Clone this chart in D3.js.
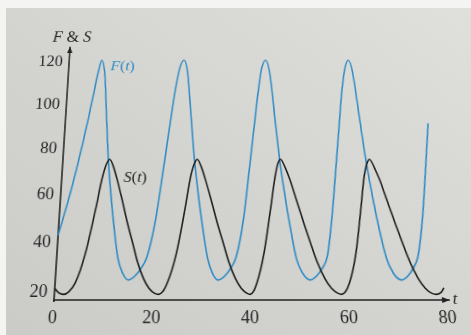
<!DOCTYPE html>
<html>
<head>
<meta charset="utf-8" />
<title>F(t) and S(t)</title>
<style>
  html, body { margin: 0; padding: 0; }
  body { width: 471px; height: 335px; overflow: hidden; position: relative; background: #f4f4f2; }
  #paper {
    position: absolute; left: 6px; top: 8px; right: 0; bottom: 0;
    background: linear-gradient(to bottom left, #dfdfdc, #d3d3d0 55%, #cbcbc8);
  }
  #chart { position: absolute; left: 0; top: 0; overflow: visible; transform-origin: 0 0; }
  .lbl { font-family: "Liberation Serif", "Times New Roman", serif; fill: #262626; }
  .curve { fill: none; stroke-width: 1.6px; stroke-linejoin: round; }
</style>
</head>
<body>
<div id="paper"></div>
<svg id="chart" width="471" height="335"></svg>
<script src="https://d3js.org/d3.v7.min.js"></script>
<script>

// ---------------- data ----------------
// F(t), blue
var tF = [0, 1, 2, 3, 4, 5, 6, 6.7, 7.3,
  8.1, 9.0, 9.8, 10.6, 11.7, 12.7, 13.8, 15.0,
  16.3, 17.4, 18.7, 20.4, 21.7, 22.9, 24.0, 25.0, 25.9,
  26.7, 27.6, 28.4, 29.2, 30.3, 31.3, 32.3, 33.5,
  34.8, 35.9, 37.2, 38.9, 40.2, 41.4, 42.5, 43.4, 44.3,
  45.1, 46.0, 46.8, 47.6, 48.7, 49.7, 50.9, 52.4,
  53.7, 54.8, 56.1, 57.5, 58.8, 60.0, 61.1, 62.1, 62.9,
  63.7, 64.6, 65.4, 66.2, 67.3, 68.4, 69.6, 71.2,
  72.5, 73.6, 74.9, 76.6, 78.1, 79.6];
var F = [42.5, 51, 60, 70, 81, 93, 106, 115, 120.5,
  115, 94, 75, 61, 45, 33, 27, 24.3,
  25.8, 28.5, 33.5, 50, 70, 89, 106, 117, 120.5,
  115, 94, 75, 61, 45, 33, 27, 24.3,
  25.8, 28.5, 33.5, 50, 70, 89, 106, 117, 120.5,
  115, 94, 75, 61, 45, 33, 27, 24.3,
  25.8, 28.5, 33.5, 50, 70, 89, 106, 117, 120.5,
  115, 94, 75, 61, 45, 33, 27, 24.3,
  25.8, 28.5, 33.5, 50, 70, 91];

// S(t), black
var tS = [0, 0.9, 1.9, 2.9, 4.1, 5.9, 7.6, 8.8, 9.5, 10.1,
  11.1, 11.9, 13.1, 14.5, 15.7, 16.8, 18.1, 19.3, 20.5, 21.3,
  22.1, 23.0, 24.8, 26.5, 27.7, 28.4, 29.0,
  30.0, 30.8, 32.0, 33.4, 34.6, 35.7, 37.0, 38.2, 39.4, 40.0,
  40.7, 41.4, 43.0, 44.6, 45.8, 46.4, 47.0,
  48.0, 48.9, 50.1, 51.6, 52.8, 54.0, 55.4, 56.7, 58.0, 58.7,
  59.5, 60.4, 62.1, 63.7, 64.9, 65.6, 66.2,
  67.2, 68.1, 69.3, 70.8, 72.0, 73.2, 74.6, 75.9, 77.2, 78.0, 79.0, 79.7];
var S = [21, 19.2, 18.6, 19.6, 23, 35, 53.5, 68, 73, 74.9,
  71, 66, 57.5, 47, 39, 31.5, 25, 21, 19, 18.6,
  19.6, 23, 35, 53.5, 68, 73, 74.9,
  71, 66, 57.5, 47, 39, 31.5, 25, 21, 19, 18.6,
  19.8, 23, 35, 53.5, 68, 73, 74.9,
  71, 66, 57.5, 47, 39, 31.5, 25, 21, 19, 18.6,
  19.6, 23, 35, 53.5, 68, 73, 74.9,
  71, 66, 57.5, 47, 39, 31.5, 25, 21, 19, 18.6, 19.3, 21.2];

var xTicks = [0, 20, 40, 60, 80];
var yTicks = [20, 40, 60, 80, 100, 120];

// ---------------- layout ----------------
var svg = d3.select("#chart");
var x = d3.scaleLinear().domain([0, 80]).range([54, 446.4]);
var y = d3.scaleLinear().domain([16.4, 120]).range([300, 36]);
var xEnd = 80.7, yEnd = 127;   // where the axis arrows stop

// the reference is a photo of a page seen slightly from below:
// warp the flat chart the same way (top edge narrower and shorter)
var vanishX = 213, tilt = 0.0004, baseY = 300;
var k = 1 + tilt * baseY;
var m = [1 / k, 0, 0, 0,
  -vanishX * tilt / k, (1 - tilt * baseY) / k, 0, -tilt / k,
  0, 0, 1, 0,
  vanishX * tilt * baseY / k, tilt * baseY * baseY / k, 0, 1];
svg.style("transform", "matrix3d(" + m.join(",") + ")");

var ink = "#222";
var defs = svg.append("defs");
defs.append("marker")
  .attr("id", "arrow")
  .attr("markerUnits", "userSpaceOnUse")
  .attr("markerWidth", 10).attr("markerHeight", 10)
  .attr("refX", 8).attr("refY", 4)
  .attr("orient", "auto")
  .append("path")
  .attr("d", "M0,1 L8,4 L0,7 Z")
  .attr("fill", ink);

// axis lines with arrows
svg.append("line")
  .attr("x1", x(0)).attr("y1", y(16.4) + 2)
  .attr("x2", x(0)).attr("y2", y(yEnd))
  .attr("stroke", ink).attr("stroke-width", 1.6)
  .attr("marker-end", "url(#arrow)");
svg.append("line")
  .attr("x1", x(0) - 1).attr("y1", y(16.4))
  .attr("x2", x(xEnd)).attr("y2", y(16.4))
  .attr("stroke", ink).attr("stroke-width", 1.6)
  .attr("marker-end", "url(#arrow)");

// tick labels
var gx = svg.append("g")
  .attr("transform", "translate(0," + y(16.4) + ")")
  .call(d3.axisBottom(x).tickValues(xTicks).tickSize(0).tickPadding(10));
var gy = svg.append("g")
  .attr("transform", "translate(" + x(0) + ",0)")
  .call(d3.axisLeft(y).tickValues(yTicks).tickSize(0).tickPadding(7));
[gx, gy].forEach(function(g) {
  g.select(".domain").remove();
  g.selectAll("text")
    .attr("class", "lbl")
    .attr("fill", "#262626")
    .style("font-size", "18px");
});
gx.selectAll("text").attr("dx", "-0.05em");

// curves
var line = d3.line()
  .curve(d3.curveMonotoneX)
  .x(function(d) { return x(d[0]); })
  .y(function(d) { return y(d[1]); });

svg.append("path")
  .attr("class", "curve")
  .attr("stroke", "#2b8ac4")
  .attr("d", line(d3.zip(tF, F)));
svg.append("path")
  .attr("class", "curve")
  .attr("stroke", "#1c1c1c")
  .attr("d", line(d3.zip(tS, S)));

// labels
function label(tx, ty, parts, size, color, anchor) {
  var t = svg.append("text")
    .attr("class", "lbl")
    .attr("x", x(tx)).attr("y", y(ty))
    .attr("text-anchor", anchor || "start")
    .style("font-size", size + "px")
    .style("fill", color);
  parts.forEach(function(p) {
    t.append("tspan").style("font-style", p[1] ? "italic" : "normal").text(p[0]);
  });
}
label(0.3, 129.4, [["F", 1], [" & ", 0], ["S", 1]], 18, "#262626", "middle");
label(9.4, 115.8, [["F", 1], ["(", 0], ["t", 1], [")", 0]], 17, "#2b8ac4");
label(13.25, 65.1, [["S", 1], ["(", 0], ["t", 1], [")", 0]], 17, "#262626");
label(81.3, 14.8, [["t", 1]], 17, "#262626");

</script>
</body>
</html>
